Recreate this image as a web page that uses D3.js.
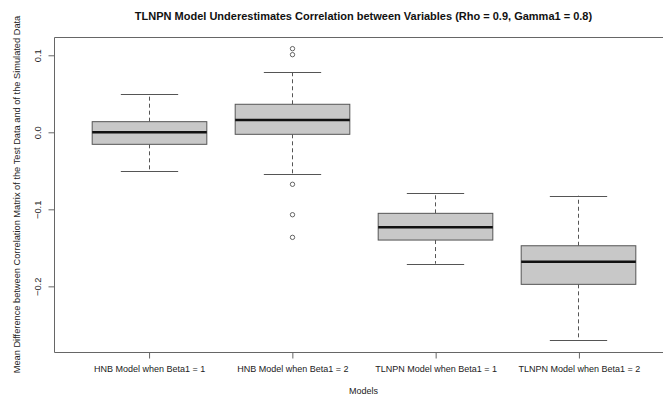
<!DOCTYPE html>
<html>
<head>
<meta charset="utf-8">
<script src="https://cdn.jsdelivr.net/npm/d3@7"></script>
<style>
  html, body { margin: 0; padding: 0; background: #fff; overflow: hidden; }
  svg { display: block; font-family: "Liberation Sans", Arial, Helvetica, sans-serif; }
</style>
</head>
<body>
<svg id="chart" width="663" height="396"></svg>
<script>
// Model groups shown along the x axis
const models = [
  "HNB Model when Beta1 = 1",
  "HNB Model when Beta1 = 2",
  "TLNPN Model when Beta1 = 1",
  "TLNPN Model when Beta1 = 2"
];
// Five-number summaries per model: lower whisker, Q1, median, Q3, upper whisker
const lowerWhisker = [-0.0507, -0.0542, -0.1706, -0.2701];
const q1           = [-0.0156, -0.0026, -0.1399, -0.1974];
const median       = [ 0.0000,  0.0160, -0.1234, -0.1680];
const q3           = [ 0.0138,  0.0364, -0.1052, -0.1473];
const upperWhisker = [ 0.0497,  0.0783, -0.0788, -0.0823];
// Points beyond the whiskers, per model
const outliers = [
  [],
  [0.1086, 0.1008, -0.0675, -0.1070, -0.1364],
  [],
  []
];
const yTicks = [-0.2, -0.1, 0.0, 0.1];

const title = "TLNPN Model Underestimates Correlation between Variables (Rho = 0.9, Gamma1 = 0.8)";
const xTitle = "Models";
const yTitle = "Mean Difference between Correlation Matrix of the Test Data and of the Simulated Data";

const W = 663, H = 396;
const svg = d3.select("#chart");
// the plotting region runs past the right edge of the canvas
const plot = { left: 54, top: 37, right: 673, bottom: 352 };

// Value range padded by 4% on each side
const allVals = lowerWhisker.concat(upperWhisker, outliers.flat());
const lo = d3.min(allVals), hi = d3.max(allVals);
const pad = (hi - lo) * 0.04;
const y = d3.scaleLinear().domain([lo - pad, hi + pad]).range([plot.bottom, plot.top]);

// Group positions 1..n, padded by 4% of the 0.5..n+0.5 span
const n = models.length;
const xpad = n * 0.04;
const x = d3.scaleLinear().domain([0.5 - xpad, n + 0.5 + xpad]).range([plot.left, plot.right]);
const halfW = x(1.4) - x(1);
const capW = halfW / 2;

const stroke = "#555";

// Boxes
const g = svg.append("g");
models.forEach((m, i) => {
  const cx = Math.round(x(i + 1)) + 0.5;
  const grp = g.append("g");
  // whiskers (dashed)
  grp.append("line")
    .attr("x1", cx).attr("x2", cx)
    .attr("y1", y(q3[i])).attr("y2", y(upperWhisker[i]))
    .attr("stroke", stroke).attr("stroke-dasharray", "4,3").attr("stroke-width", 1);
  grp.append("line")
    .attr("x1", cx).attr("x2", cx)
    .attr("y1", y(q1[i])).attr("y2", y(lowerWhisker[i]))
    .attr("stroke", stroke).attr("stroke-dasharray", "4,3").attr("stroke-width", 1);
  // caps
  [upperWhisker[i], lowerWhisker[i]].forEach(v => {
    grp.append("line")
      .attr("x1", cx - capW).attr("x2", cx + capW)
      .attr("y1", Math.round(y(v)) + 0.5).attr("y2", Math.round(y(v)) + 0.5)
      .attr("stroke", stroke).attr("stroke-width", 1);
  });
  // box
  grp.append("rect")
    .attr("x", cx - halfW).attr("width", 2 * halfW)
    .attr("y", y(q3[i])).attr("height", y(q1[i]) - y(q3[i]))
    .attr("fill", "#c8c8c8").attr("stroke", stroke).attr("stroke-width", 1);
  // median
  grp.append("line")
    .attr("x1", cx - halfW).attr("x2", cx + halfW)
    .attr("y1", y(median[i])).attr("y2", y(median[i]))
    .attr("stroke", "#111").attr("stroke-width", 2.5);
  // outliers
  grp.selectAll("circle").data(outliers[i]).join("circle")
    .attr("cx", cx).attr("cy", d => y(d)).attr("r", 2.2)
    .attr("fill", "none").attr("stroke", stroke).attr("stroke-width", 0.9);
});

// Plot frame: top, left and bottom sides, cut at the canvas edge
const L = plot.left + 0.5, T = plot.top + 0.5, B = plot.bottom + 0.5;
const R = Math.min(plot.right, W);
svg.append("path")
  .attr("d", `M${R},${T}H${L}V${B}H${R}`)
  .attr("fill", "none").attr("stroke", "#666").attr("stroke-width", 1);

// Y axis
const yAxis = svg.append("g")
  .attr("transform", `translate(${plot.left + 0.5},0)`)
  .call(d3.axisLeft(y).tickValues(yTicks).tickSize(6).tickFormat(d3.format(".1f")));
yAxis.select(".domain").remove();
yAxis.selectAll(".tick line").attr("stroke", "#666");
yAxis.selectAll(".tick text")
  .attr("x", 0).attr("dy", 0)
  .attr("transform", "translate(-14,0) rotate(-90)")
  .attr("text-anchor", "middle")
  .attr("font-size", 9.3).attr("fill", "#222")
  .attr("font-family", "Liberation Sans, Arial, sans-serif");

// X axis
const xAxis = svg.append("g")
  .attr("transform", `translate(0.5,${plot.bottom + 0.5})`)
  .call(d3.axisBottom(x).tickValues(d3.range(1, n + 1)).tickSize(6)
    .tickFormat(d => models[d - 1]));
xAxis.select(".domain").remove();
xAxis.selectAll(".tick line").attr("stroke", "#666");
xAxis.selectAll(".tick text")
  .attr("y", 19).attr("dy", 0)
  .attr("font-size", 9).attr("fill", "#222")
  .attr("font-family", "Liberation Sans, Arial, sans-serif");

// Titles
svg.append("text")
  .attr("x", (plot.left + plot.right) / 2).attr("y", 20)
  .attr("text-anchor", "middle").attr("font-weight", "bold").attr("font-size", 11)
  .attr("fill", "#111").text(title);
svg.append("text")
  .attr("x", (plot.left + plot.right) / 2).attr("y", 394)
  .attr("text-anchor", "middle").attr("font-size", 9).attr("fill", "#222").text(xTitle);
svg.append("text")
  .attr("transform", `translate(20,${(plot.top + plot.bottom) / 2}) rotate(-90)`)
  .attr("text-anchor", "middle").attr("font-size", 9.25).attr("fill", "#222").text(yTitle);
</script>
</body>
</html>
